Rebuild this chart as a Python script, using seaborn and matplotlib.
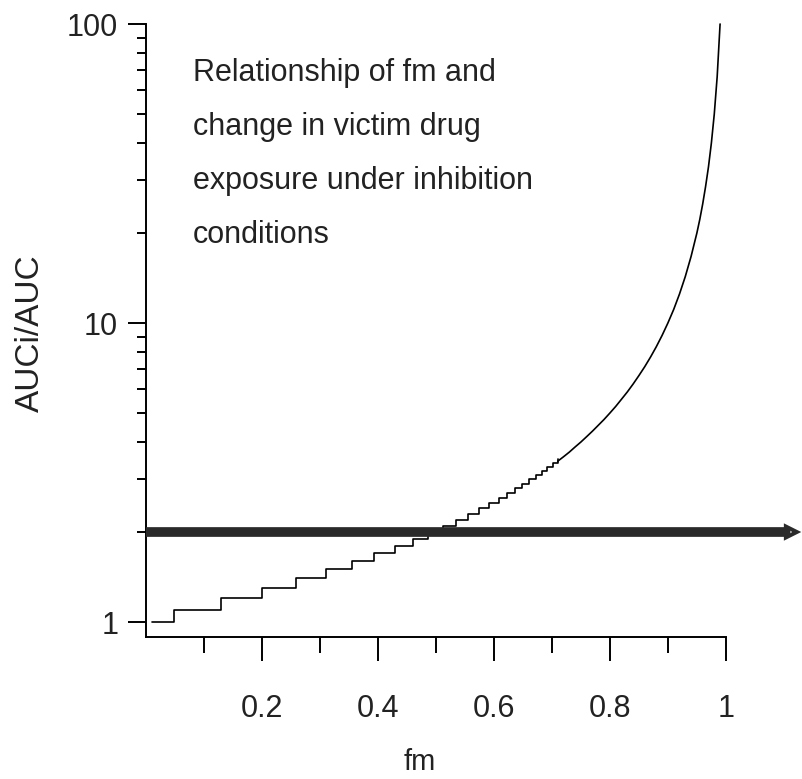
import matplotlib
matplotlib.use('Agg')
import matplotlib.pyplot as plt
import seaborn as sns
from matplotlib.ticker import FixedLocator, NullFormatter

# staircase part of the curve (values rounded to 0.1)
step_fm = [0.010, 0.048, 0.130, 0.200, 0.259, 0.310, 0.355, 0.394, 0.429, 0.460,
           0.487, 0.512, 0.535, 0.556, 0.575, 0.592, 0.608, 0.623, 0.636, 0.649,
           0.661, 0.672, 0.683, 0.692, 0.702, 0.710]
step_ratio = [1.0, 1.1, 1.2, 1.3, 1.4, 1.5, 1.6, 1.7, 1.8, 1.9,
              2.0, 2.1, 2.2, 2.3, 2.4, 2.5, 2.6, 2.7, 2.8, 2.9,
              3.0, 3.1, 3.2, 3.3, 3.4, 3.5]

# smooth upper part
curve_fm = [0.710, 0.72, 0.73, 0.74, 0.75, 0.76, 0.77, 0.78, 0.79, 0.80,
            0.81, 0.82, 0.83, 0.84, 0.85, 0.86, 0.87, 0.88, 0.89, 0.90,
            0.91, 0.92, 0.93, 0.94, 0.95, 0.955, 0.96, 0.965, 0.97, 0.975,
            0.98, 0.985, 0.99]
curve_ratio = [3.45, 3.57, 3.70, 3.85, 4.00, 4.17, 4.35, 4.55, 4.76, 5.00,
               5.26, 5.56, 5.88, 6.25, 6.67, 7.14, 7.69, 8.33, 9.09, 10.0,
               11.1, 12.5, 14.3, 16.7, 20.0, 22.2, 25.0, 28.6, 33.3, 40.0,
               50.0, 66.7, 100.0]

threshold = 2.0

x_major = [0.2, 0.4, 0.6, 0.8, 1.0]
x_labels = ['0.2', '0.4', '0.6', '0.8', '1']
x_minor = [0.1, 0.3, 0.5, 0.7, 0.9]
y_major = [1, 10, 100]
y_labels = ['1', '10', '100']
y_minor = [2, 3, 4, 5, 6, 7, 8, 9, 20, 30, 40, 50, 60, 70, 80, 90]

title = 'Relationship of fm and\nchange in victim drug\nexposure under inhibition\nconditions'

sns.set_theme(style='ticks')
plt.rcParams['font.family'] = ['Liberation Sans', 'DejaVu Sans']

W, H = 803, 779
fig = plt.figure(figsize=(W / 100, H / 100), dpi=100)
ax = fig.add_axes([146 / W, (H - 637) / H, 1 - 146 / W, (637 - 10) / H])
ax.set_facecolor('white')

sns.lineplot(x=step_fm, y=step_ratio, drawstyle='steps-post', estimator=None,
             sort=False, color='black', lw=1.2, ax=ax, zorder=2)
sns.lineplot(x=curve_fm, y=curve_ratio, estimator=None, sort=False,
             color='black', lw=1.2, ax=ax, zorder=2)

ax.set_yscale('log')
ax.set_xlim(0, 1.133)
ax.set_ylim(0.891, 111.4)

# threshold line with small arrow head running off the right edge
ax.annotate('', xy=(1.13, threshold), xytext=(0, threshold),
            arrowprops=dict(arrowstyle='-|>', lw=7, color='#2a2a2a',
                            shrinkA=0, shrinkB=0, mutation_scale=3,
                            capstyle='butt', joinstyle='miter'),
            annotation_clip=False, zorder=3)

ax.xaxis.set_major_locator(FixedLocator(x_major))
ax.set_xticklabels(x_labels)
ax.xaxis.set_minor_locator(FixedLocator(x_minor))
ax.yaxis.set_major_locator(FixedLocator(y_major))
ax.set_yticklabels(y_labels)
ax.yaxis.set_minor_locator(FixedLocator(y_minor))
ax.yaxis.set_minor_formatter(NullFormatter())

ax.tick_params(axis='x', which='major', length=17, width=1.4, color='black',
               labelsize=22, pad=24, labelcolor='#222222')
ax.tick_params(axis='x', which='minor', length=11.5, width=1.4, color='black')
ax.tick_params(axis='y', which='major', length=13, width=1.4, color='black',
               labelsize=22, pad=7, labelcolor='#222222')
ax.tick_params(axis='y', which='minor', length=6.5, width=1.4, color='black')

for s in ['top', 'right']:
    ax.spines[s].set_visible(False)
for s in ['left', 'bottom']:
    ax.spines[s].set_color('black')
    ax.spines[s].set_linewidth(1.4)
ax.spines['left'].set_bounds(0.891, 100)
ax.spines['bottom'].set_bounds(0, 1)

ax.set_xlabel('fm', fontsize=21, color='#222222')
ax.xaxis.label.set_va('center')
ax.xaxis.set_label_coords(0.417, -0.2)
ax.set_ylabel('AUCi/AUC', fontsize=24, color='#222222')
ax.yaxis.label.set_va('center')
ax.yaxis.set_label_coords(-0.1766, 0.485)

fig.text(193 / W, 1 - 58 / H, title, fontsize=22, color='#222222',
         ha='left', va='top', linespacing=2.05)

fig.savefig('out.png', dpi=100, facecolor='white')
